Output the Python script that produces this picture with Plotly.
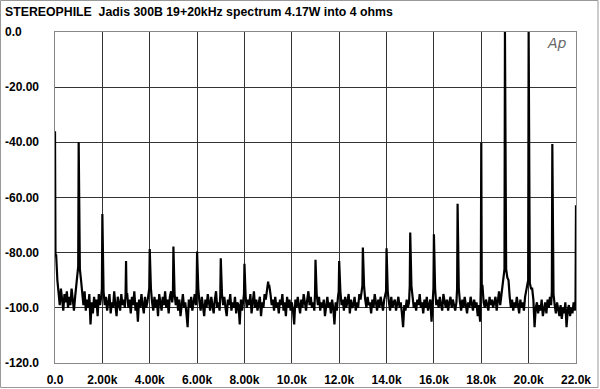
import plotly.graph_objects as go

# Noise floor, read every 0.05 kHz from 0.00 to 22.00 kHz (dB), 20 values per kHz
noise_start_khz = 0.0
noise_step_khz = 0.05
noise_db = [
    -97, -81, -90, -94, -99, -93, -97, -101, -95, -98, -94, -100, -96, -99, -93, -98, -101, -96, -92, -88,
    -85, -86, -90, -96, -99, -94, -101, -97, -100, -95, -106, -98, -102, -96, -100, -97, -103, -95, -99, -96,
    -93, -94, -99, -96, -101, -97, -95, -102, -98, -100, -94, -99, -103, -96, -98, -101, -95, -99, -97, -100,
    -95, -95, -100, -97, -102, -96, -99, -94, -101, -98, -105, -97, -100, -95, -99, -102, -96, -100, -98, -95,
    -93, -93, -98, -101, -96, -100, -97, -103, -95, -99, -101, -96, -99, -94, -100, -97, -102, -96, -94, -98,
    -95, -95, -99, -96, -101, -97, -103, -98, -95, -100, -98, -102, -107, -97, -100, -96, -101, -98, -95, -99,
    -93, -93, -98, -101, -96, -99, -103, -97, -100, -95, -98, -101, -96, -99, -102, -97, -94, -100, -98, -101,
    -95, -95, -99, -96, -100, -103, -97, -99, -95, -101, -98, -100, -96, -102, -98, -99, -106, -97, -101, -97,
    -95, -96, -100, -97, -99, -95, -102, -98, -94, -100, -97, -101, -99, -96, -103, -98, -100, -95, -97, -93,
    -91, -92, -95, -99, -97, -101, -96, -100, -98, -102, -97, -99, -95, -101, -98, -103, -96, -100, -97, -101,
    -98, -101, -106, -97, -100, -96, -99, -102, -97, -100, -95, -99, -101, -97, -94, -99, -96, -100, -98, -101,
    -95, -95, -99, -96, -101, -98, -100, -97, -103, -99, -96, -100, -98, -102, -97, -100, -106, -98, -101, -96,
    -94, -94, -99, -97, -101, -96, -100, -98, -95, -102, -97, -100, -99, -96, -101, -98, -100, -95, -97, -94,
    -92, -92, -97, -100, -96, -99, -98, -102, -97, -100, -95, -99, -101, -97, -100, -96, -98, -101, -97, -95,
    -94, -94, -98, -101, -96, -100, -98, -97, -101, -99, -96, -100, -98, -102, -107, -99, -101, -97, -100, -98,
    -92, -92, -96, -100, -98, -101, -97, -99, -95, -100, -98, -102, -97, -100, -96, -101, -99, -97, -105, -98,
    -93, -93, -99, -97, -100, -96, -99, -101, -95, -98, -100, -97, -101, -98, -96, -100, -97, -99, -101, -98,
    -93, -93, -98, -101, -97, -100, -96, -99, -102, -98, -100, -96, -99, -101, -97, -100, -98, -103, -99, -105,
    -92, -92, -98, -100, -97, -99, -101, -96, -99, -97, -100, -98, -96, -101, -97, -94, -99, -95, -91, -89,
    -87, -86, -89, -90, -96, -100, -97, -101, -98, -100, -96, -99, -102, -97, -100, -98, -101, -96, -94, -92,
    -90, -91, -93, -93, -97, -107, -100, -98, -102, -99, -101, -97, -103, -100, -98, -102, -97, -100, -96, -99,
    -94, -95, -99, -102, -98, -101, -103, -99, -104, -100, -102, -98, -107, -101, -99, -103, -100, -102, -98, -101,
    -97,
]

# Spectral lines (harmonics / IMD products)
peak_khz = [0, 1, 2, 3, 4, 5, 6, 7, 8, 9, 11, 12, 13, 14, 15, 16, 17, 18, 19, 20, 21, 22]
peak_db = [-36, -40, -66, -83, -78.7, -77.8, -79.6, -82, -84, -90.5, -82.6, -83,
           -78.1, -78.4, -72.7, -73.3, -62.3, -40.1, 0, 0, -40.6, -62.8]
peak_base_db = [-81, -85, -93, -95, -93, -95, -93, -95, -95, -92, -95, -94,
                -92, -94, -92, -93, -93, -92, -86, -90, -94, -97]
peak_halfwidth_khz = 0.02

x_tick_vals = [0, 2, 4, 6, 8, 10, 12, 14, 16, 18, 20, 22]
x_tick_text = ["0.0", "2.00k", "4.00k", "6.00k", "8.00k", "10.0k", "12.0k",
               "14.0k", "16.0k", "18.0k", "20.0k", "22.0k"]
y_tick_vals = [0, -20, -40, -60, -80, -100, -120]
y_tick_text = ["0.0", "-20.00", "-40.00", "-60.00", "-80.00", "-100.0", "-120.0"]

title_text = "STEREOPHILE  Jadis 300B 19+20kHz spectrum 4.17W into 4 ohms"

# Build combined trace
pts = []
for i, v in enumerate(noise_db):
    f = noise_start_khz + i * noise_step_khz
    if any(abs(f - p) < 0.025 for p in peak_khz):
        continue
    pts.append((f, v))
for f, lv, base in zip(peak_khz, peak_db, peak_base_db):
    pts.append((f - peak_halfwidth_khz, base))
    pts.append((f, lv))
    pts.append((f + peak_halfwidth_khz, base))
pts.sort(key=lambda t: t[0])
xs = [p[0] for p in pts]
ys = [p[1] for p in pts]

W, H = 600, 389
L, R, T, B = 55, 24, 32, 26
pw, ph = W - L - R, H - T - B


def px_x(X):
    return (X - L) / pw


def px_y(Y):
    return (H - B - Y) / ph


fig = go.Figure()
fig.add_trace(go.Scatter(x=xs, y=ys, mode="lines",
                         line=dict(color="black", width=2.2),
                         hoverinfo="skip", showlegend=False))

font_main = "Liberation Sans, Arial, Helvetica, sans-serif"

annotations = []
for v, t in zip(y_tick_vals, y_tick_text):
    annotations.append(dict(text=f"<b>{t}</b>", x=px_x(3), xref="paper", y=v, yref="y",
                            xanchor="left", yanchor="middle", showarrow=False,
                            font=dict(family=font_main, size=12, color="black")))
annotations.append(dict(text="<b>" + title_text + "</b>", x=px_x(3), xref="paper",
                        y=px_y(12), yref="paper", xanchor="left", yanchor="middle",
                        showarrow=False, font=dict(family=font_main, size=12.3, color="black")))
annotations.append(dict(text="<i>Ap</i>", x=px_x(557), xref="paper", y=px_y(43), yref="paper",
                        xanchor="center", yanchor="middle", showarrow=False,
                        font=dict(family="DejaVu Sans, sans-serif", size=14, color="#666")))

shapes = [dict(type="rect", xref="paper", yref="paper",
               x0=px_x(0.5), x1=px_x(598), y0=px_y(387.5), y1=px_y(0.5),
               line=dict(color="#999", width=1), fillcolor="rgba(0,0,0,0)", layer="below")]

fig.update_layout(
    width=W, height=H,
    margin=dict(l=L, r=R, t=T, b=B, pad=0, autoexpand=False),
    paper_bgcolor="white", plot_bgcolor="white",
    annotations=annotations, shapes=shapes,
    xaxis=dict(range=[0, 22], tickvals=x_tick_vals, ticktext=[f"<b>{t}</b>" for t in x_tick_text],
               showgrid=True, gridcolor="#333", gridwidth=1, zeroline=False, automargin=False,
               showline=True, linecolor="#888", linewidth=1, mirror=True,
               ticks="outside", ticklen=6, tickcolor="rgba(0,0,0,0)",
               tickfont=dict(family=font_main, size=12, color="black")),
    yaxis=dict(range=[-120, 0], tickvals=y_tick_vals, showticklabels=False, automargin=False,
               showgrid=True, gridcolor="#333", gridwidth=1, zeroline=False,
               showline=True, linecolor="#888", linewidth=1, mirror=True),
)

fig.write_html("out.html", config={"displayModeBar": False},
               post_script="document.body.style.margin='0';document.body.style.padding='0';")
